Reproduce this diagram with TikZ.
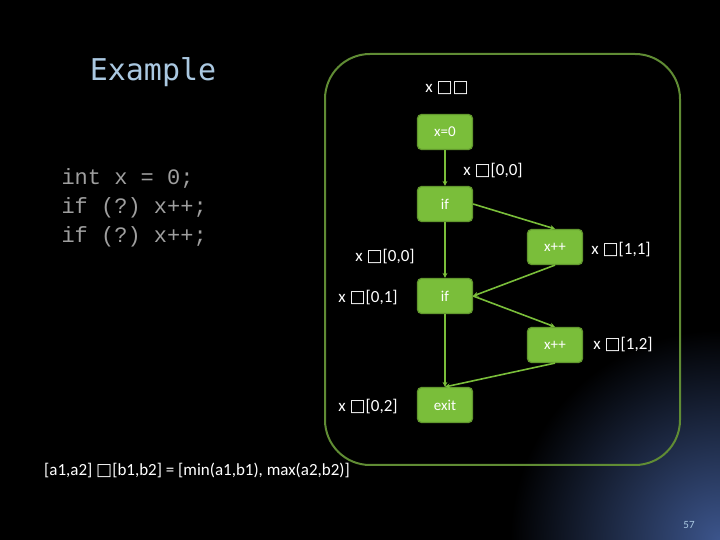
\documentclass[tikz,border=0pt]{standalone}
\usepackage{fontspec}
\setmainfont{Carlito}
\setmonofont{Liberation Mono}
\newfontfamily\titlefont{DejaVu Sans Mono}
\newfontfamily\symfont{DejaVu Sans}
\usetikzlibrary{arrows.meta, positioning}
\definecolor{boxgreen}{RGB}{122,190,58}
\definecolor{framegreen}{RGB}{96,140,52}
\definecolor{titleblue}{RGB}{170,200,225}
\newcommand{\tofu}{{\symfont\char"25A1}}
\tikzset{
  blk/.style={draw=boxgreen!80!black, line width=1.2pt, fill=boxgreen, rounded corners=4pt,
    minimum width=55pt, minimum height=35pt, text=white, font=\fontsize{15}{15}\selectfont},
  lbl/.style={text=white, font=\fontsize{17}{17}\selectfont},
  flow/.style={draw=boxgreen, line width=1.6pt, -{Stealth[length=5pt,width=5pt]}}
}
\begin{document}
\begin{tikzpicture}[x=1pt, y=1pt]
  \useasboundingbox (0,0) rectangle (720,540);
  \fill[black] (0,0) rectangle (720,540);
  \shade[inner color={rgb,255:red,60;green,85;blue,140}, outer color=black] (720,0) circle (210);
  % title and code
  \node[text=titleblue, font=\titlefont\fontsize{30}{30}\selectfont] (title) at (153,468) {Example};
  \node[text=gray!75, font=\ttfamily\fontsize{22}{29}\selectfont, align=left, anchor=north west] (code) at (58,375)
    {int x = 0;\\if (?) x++;\\if (?) x++;};
  % frame
  \draw[framegreen, line width=2pt, rounded corners=45pt] (325,75) rectangle (680,486);
  % blocks
  \node[blk] (init) at (445,408) {x=0};
  \node[blk] (ifa) at (445,336) {if};
  \node[blk] (inca) at (555,293) {x++};
  \node[blk] (ifb) at (445,244) {if};
  \node[blk] (incb) at (555,195) {x++};
  \node[blk] (exit) at (445,135) {exit};
  % edges
  \draw[flow] (init) -- (ifa);
  \draw[flow] (ifa.east) -- (inca.north);
  \draw[flow] (ifa) -- (ifb);
  \draw[flow] (inca.south) -- (ifb.east);
  \draw[flow] (ifb.east) -- (incb.north);
  \draw[flow] (ifb) -- (exit);
  \draw[flow] (incb.south) -- (exit.north);
  % labels
  \node[lbl] (ltop) at (447,452) {x \tofu\tofu};
  \node[lbl] (la) at (493,369) {x \tofu[0,0]};
  \node[lbl] (lb) at (385,283) {x \tofu[0,0]};
  \node[lbl] (lc) at (368,242) {x \tofu[0,1]};
  \node[lbl] (ld) at (621,290) {x \tofu[1,1]};
  \node[lbl] (le) at (623,195) {x \tofu[1,2]};
  \node[lbl] (lf) at (368,133) {x \tofu[0,2]};
  \node[lbl] (join) at (197,70) {[a1,a2] \tofu[b1,b2] = [min(a1,b1), max(a2,b2)]};
  \node[text=titleblue, font=\fontsize{11}{11}\selectfont] (page) at (689,15) {57};
\end{tikzpicture}
\end{document}
